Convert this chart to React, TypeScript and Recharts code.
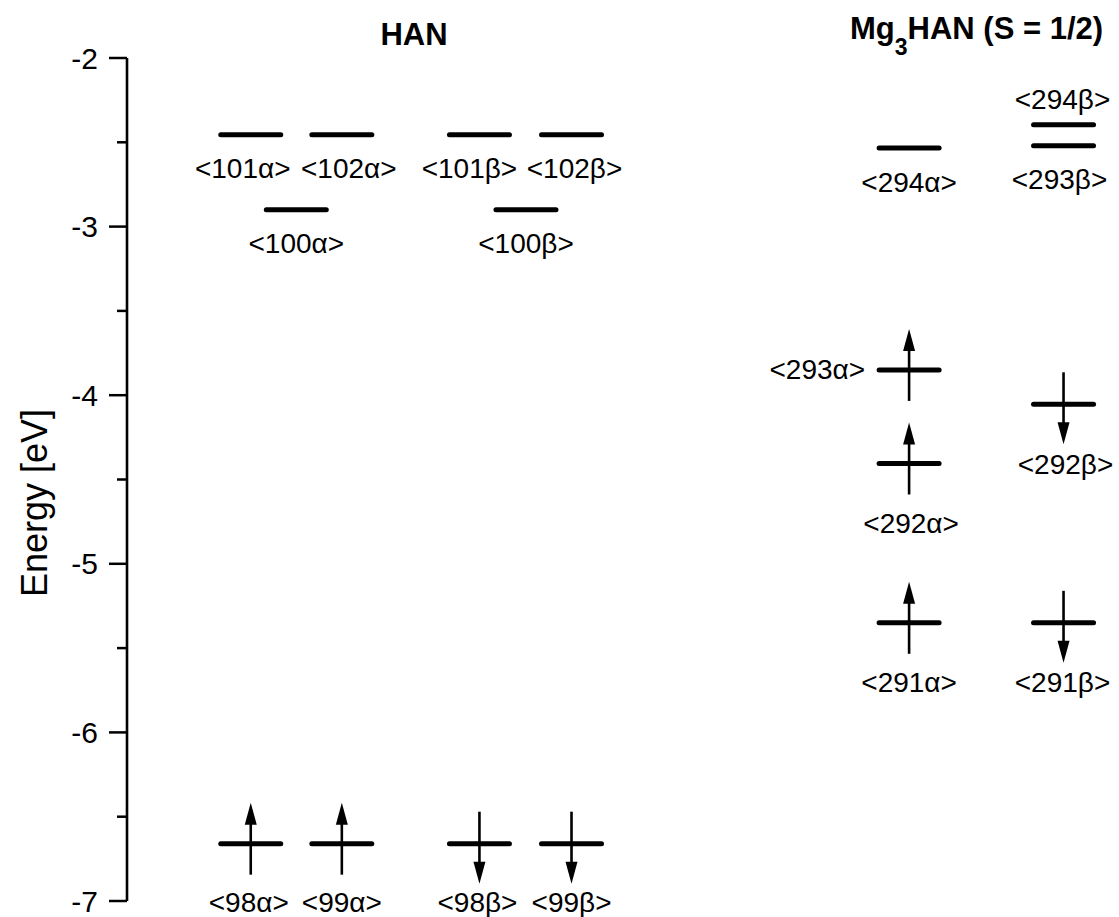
import React from 'react';
import { ComposedChart, Scatter, XAxis, YAxis, Label } from 'recharts';

// ---- data ----
const levelNames = [
  '101α', '102α', '100α', '98α', '99α',
  '101β', '102β', '100β', '98β', '99β',
  '294α', '294β', '293β', '293α', '292α', '291α', '292β', '291β',
];
const levelEnergies = [
  -2.455, -2.455, -2.9, -6.66, -6.66,
  -2.455, -2.455, -2.9, -6.66, -6.66,
  -2.534, -2.396, -2.52, -3.85, -4.405, -5.35, -4.054, -5.35,
];
// horizontal slot of each level (column position in the diagram)
const levelSlots = [
  1.25, 2.17, 1.71, 1.25, 2.17,
  3.56, 4.49, 4.03, 3.56, 4.49,
  7.9, 9.46, 9.46, 7.9, 7.9, 7.9, 9.46, 9.46,
];
const levelSpins = [
  '', '', '', 'up', 'up',
  '', '', '', 'down', 'down',
  '', '', '', 'up', 'up', 'up', 'down', 'down',
];
const labelSides = [
  'below', 'below', 'below', 'below', 'below',
  'below', 'below', 'below', 'below', 'below',
  'below', 'above', 'below', 'left', 'below', 'below', 'below', 'below',
];
// small horizontal nudges (px) so neighbouring labels do not collide
const labelNudges = [
  -8, 7, 0, -2, 0,
  -10, 3, 0, -2, 0,
  0, -1, -4, 0, 2, 0, 2, -1,
];
const yTicks = [-7, -6.5, -6, -5.5, -5, -4.5, -4, -3.5, -3, -2.5, -2];
const panelTitles = ['HAN', 'Mg3HAN (S = 1/2)'];
const yAxisTitle = 'Energy [eV]';

const levels = levelNames.map((name, i) => ({
  name,
  x: levelSlots[i],
  y: levelEnergies[i],
  spin: levelSpins[i],
  side: labelSides[i],
  nudge: labelNudges[i],
}));

const FONT = '"Liberation Sans", Arial, Helvetica, sans-serif';

const YTick = (props: any) => {
  const { x, y, payload } = props;
  const major = Number.isInteger(payload.value);
  return (
    <g>
      <line x1={x - (major ? 18 : 10)} x2={x} y1={y} y2={y} stroke="#000" strokeWidth={2.5} />
      {major && (
        <text x={x - 29} y={y} textAnchor="end" dominantBaseline="central" fontSize={30} fontFamily={FONT} fill="#000">
          {payload.value}
        </text>
      )}
    </g>
  );
};

const LevelShape = (props: any) => {
  const { cx, cy, payload } = props;
  if (cx == null || cy == null) return null;
  const half = 30;
  const head = 22;
  const hw = 6;
  const parts: any[] = [];
  parts.push(
    <line key="bar" x1={cx - half} x2={cx + half} y1={cy} y2={cy} stroke="#000" strokeWidth={5} strokeLinecap="round" />
  );
  if (payload.spin === 'up') {
    const tip = cy - 41;
    parts.push(<line key="stem" x1={cx} x2={cx} y1={cy + 31} y2={tip + head - 2} stroke="#000" strokeWidth={2.6} />);
    parts.push(<polygon key="head" points={`${cx},${tip} ${cx - hw},${tip + head} ${cx + hw},${tip + head}`} fill="#000" />);
  } else if (payload.spin === 'down') {
    const tip = cy + 40;
    parts.push(<line key="stem" x1={cx} x2={cx} y1={cy - 32} y2={tip - head + 2} stroke="#000" strokeWidth={2.6} />);
    parts.push(<polygon key="head" points={`${cx},${tip} ${cx - hw},${tip - head} ${cx + hw},${tip - head}`} fill="#000" />);
  }
  let lx = cx + payload.nudge;
  let ly = cy;
  let anchor: any = 'middle';
  if (payload.side === 'below') ly = cy + (payload.spin ? (cy > 800 ? 59 : 60) : 34);
  else if (payload.side === 'above') ly = cy - 25;
  else if (payload.side === 'left') {
    lx = cx - 44;
    anchor = 'end';
  }
  parts.push(
    <text key="lbl" x={lx} y={ly} textAnchor={anchor} dominantBaseline="central" fontSize={28} fontFamily={FONT} fill="#000">
      {'<' + payload.name + '>'}
    </text>
  );
  return <g>{parts}</g>;
};

export default function App() {
  return (
    <div style={{ position: 'absolute', left: 0, top: 0, width: 1119, height: 917, background: '#fff' }}>
      <ComposedChart width={1119} height={917} margin={{ top: 58, right: 2, bottom: 16, left: 0 }}>
        <XAxis type="number" dataKey="x" domain={[0, 10]} hide />
        <YAxis
          type="number"
          dataKey="y"
          domain={[-7, -2]}
          ticks={yTicks}
          width={127}
          tickSize={0}
          tickMargin={0}
          tickLine={false}
          axisLine={{ stroke: '#000', strokeWidth: 2.6 }}
          tick={<YTick />}
          interval={0}
        >
          <Label
            content={() => {
              const cx = 47;
              const cy = 503;
              return (
                <text x={cx} y={cy} transform={`rotate(-90 ${cx} ${cy})`} textAnchor="middle" fontSize={36} fontFamily={FONT} fill="#000">
                  {yAxisTitle}
                </text>
              );
            }}
          />
        </YAxis>
        <Scatter data={levels} dataKey="y" shape={<LevelShape />} isAnimationActive={false} />
      </ComposedChart>
      <svg width={1119} height={917} style={{ position: 'absolute', left: 0, top: 0, pointerEvents: 'none' }}>
        <text x={414} y={45} textAnchor="middle" fontSize={31} fontWeight="bold" fontFamily={FONT} fill="#000">
          {panelTitles[0]}
        </text>
        <text x={850} y={39} textAnchor="start" fontSize={31} fontWeight="bold" fontFamily={FONT} fill="#000">
          Mg<tspan fontSize={23} dy={16}>3</tspan>
          <tspan dy={-16}>HAN (S = 1/2)</tspan>
        </text>
      </svg>
    </div>
  );
}
